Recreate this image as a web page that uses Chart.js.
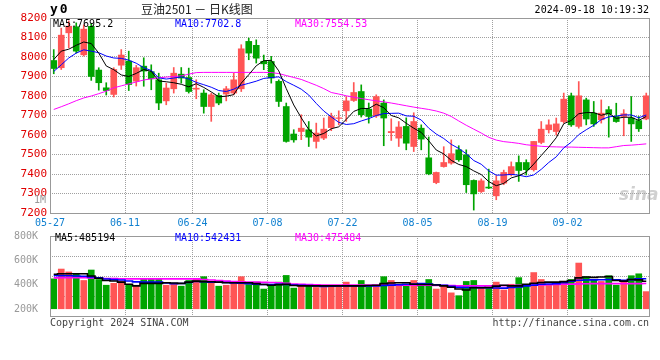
<!DOCTYPE html>
<html>
<head>
<meta charset="utf-8">
<script src="https://cdn.jsdelivr.net/npm/chart.js@4.4.1/dist/chart.umd.min.js"></script>
<style>
    body { margin: 0; background: #fff; }
    #wrap { position: relative; width: 660px; height: 360px; overflow: hidden; font-family: 'DejaVu Sans Mono', monospace; font-size: 10px; }
    #wrap canvas { position: absolute; left: 0; }
    .txt { position: absolute; white-space: nowrap; line-height: 12px; }
</style>
</head>
<body>
<div id="wrap">
    <canvas id="kChart" width="660" height="232" style="top:0"></canvas>
    <canvas id="volChart" width="660" height="100" style="top:226px"></canvas>

    <div class="txt" style="left:50px;top:3px;font-size:13px;font-weight:bold;letter-spacing:2px">y0</div>
    <div class="txt" style="left:141px;top:2px;font-family:'Noto Sans CJK SC';font-size:12px;line-height:14px;color:#222">豆油2501 － 日K线图</div>
    <div class="txt" style="right:11px;top:4px;color:#000">2024-09-18 10:19:32</div>

    <div class="txt" style="left:53px;top:18px;color:#000">MA5:7695.2</div>
    <div class="txt" style="left:175px;top:18px;color:#0000ff">MA10:7702.8</div>
    <div class="txt" style="left:295px;top:18px;color:#ff00ff">MA30:7554.53</div>

    <div class="txt" style="right:614px;top:194px;color:#999">1M</div>
    <div class="txt" style="left:619px;top:184px;font-family:'DejaVu Sans';font-size:17px;line-height:20px;font-style:italic;font-weight:bold;color:rgba(170,170,170,0.55)">sina</div>

    <div class="txt" style="left:55px;top:232px;color:#000">MA5:485194</div>
    <div class="txt" style="left:175px;top:232px;color:#0000ff">MA10:542431</div>
    <div class="txt" style="left:295px;top:232px;color:#ff00ff">MA30:475484</div>

    <div class="txt" style="left:50px;top:317px;color:#444">Copyright 2024 SINA.COM</div>
    <div class="txt" style="right:11px;top:317px;color:#444">http://finance.sina.com.cn</div>
</div>

<script>
// 豆油2501 daily candles, 2024-05-27 .. 2024-09-18 (80 trading days)

const tickDays = [0, 10, 19, 29, 39, 49, 59, 69];
const tickLabels = ['05-27', '06-11', '06-24', '07-08', '07-22', '08-05', '08-19', '09-02'];

const opens = [
    7982, 7945, 8124, 8155, 8011, 8157, 7933, 7842, 7808, 7958,
    7979, 7876, 7953, 7925, 7883, 7775, 7837, 7912, 7895, 7835,
    7815, 7746, 7803, 7810, 7815, 7837, 8080, 8060, 7978, 7977,
    7875, 7746, 7605, 7618, 7627, 7567, 7584, 7638, 7685, 7724,
    7777, 7823, 7733, 7698, 7764, 7612, 7584, 7644, 7541, 7635,
    7483, 7356, 7438, 7456, 7524, 7498, 7367, 7310, 7333, 7288,
    7353, 7396, 7459, 7459, 7422, 7562, 7627, 7618, 7669, 7801,
    7644, 7780, 7712, 7678, 7730, 7695, 7695, 7687, 7674, 7682
];
const highs = [
    8038, 8148, 8185, 8175, 8165, 8172, 7945, 7868, 7945, 8038,
    8030, 7957, 7996, 7960, 7917, 7866, 7946, 7946, 7943, 7883,
    7832, 7815, 7815, 7849, 7917, 8063, 8097, 8088, 8010, 8003,
    7883, 7764, 7627, 7704, 7669, 7661, 7687, 7712, 7724, 7797,
    7869, 7857, 7764, 7806, 7780, 7683, 7669, 7688, 7714, 7652,
    7590, 7410, 7540, 7575, 7545, 7524, 7370, 7375, 7425, 7391,
    7420, 7462, 7493, 7473, 7567, 7669, 7678, 7687, 7815, 7815,
    7874, 7789, 7772, 7780, 7746, 7763, 7730, 7797, 7695, 7815
];
const lows = [
    7914, 7936, 8047, 8020, 8005, 7880, 7830, 7805, 7795, 7936,
    7828, 7851, 7850, 7832, 7730, 7755, 7815, 7866, 7815, 7786,
    7712, 7670, 7755, 7775, 7806, 7823, 7986, 7969, 7935, 7866,
    7746, 7563, 7563, 7576, 7541, 7533, 7576, 7622, 7652, 7670,
    7772, 7692, 7661, 7690, 7545, 7572, 7541, 7524, 7515, 7524,
    7396, 7350, 7435, 7450, 7465, 7305, 7215, 7305, 7325, 7268,
    7345, 7390, 7362, 7395, 7415, 7555, 7610, 7600, 7661, 7644,
    7635, 7652, 7644, 7661, 7589, 7665, 7596, 7567, 7618, 7678
];
const closes = [
    7941, 8112, 8158, 8030, 8143, 7900, 7868, 7828, 7936, 8010,
    7859, 7945, 7928, 7888, 7764, 7841, 7917, 7892, 7823, 7840,
    7746, 7806, 7764, 7837, 7883, 8042, 8020, 7994, 7965, 7892,
    7772, 7567, 7575, 7635, 7589, 7610, 7630, 7695, 7688, 7775,
    7818, 7704, 7695, 7797, 7687, 7618, 7641, 7558, 7669, 7579,
    7401, 7408, 7459, 7504, 7473, 7345, 7298, 7365, 7328, 7365,
    7408, 7438, 7418, 7422, 7567, 7630, 7652, 7657, 7784, 7652,
    7801, 7682, 7657, 7712, 7707, 7669, 7709, 7657, 7632, 7801
];

const ma5 = [
    7987, 8030, 8040, 8060, 8077, 8069, 8020, 7954, 7935, 7908,
    7900, 7916, 7936, 7926, 7877, 7873, 7868, 7860, 7847, 7863,
    7844, 7821, 7796, 7799, 7807, 7866, 7909, 7955, 7981, 7983,
    7929, 7838, 7754, 7688, 7628, 7595, 7608, 7632, 7642, 7680,
    7721, 7736, 7736, 7758, 7740, 7700, 7688, 7660, 7635, 7613,
    7570, 7523, 7503, 7470, 7449, 7438, 7416, 7397, 7361, 7340,
    7352, 7380, 7391, 7410, 7451, 7495, 7538, 7586, 7658, 7675,
    7709, 7715, 7715, 7701, 7712, 7685, 7691, 7691, 7675, 7695.2
];
const ma10 = [
    7926, 7960, 7995, 8020, 8037, 8030, 8022, 8005, 7995, 7993,
    7984, 7968, 7945, 7931, 7893, 7887, 7892, 7898, 7887, 7870,
    7858, 7845, 7828, 7823, 7835, 7855, 7865, 7876, 7890, 7895,
    7898, 7874, 7855, 7835, 7805, 7762, 7723, 7693, 7665, 7654,
    7658, 7672, 7684, 7700, 7710, 7711, 7712, 7698, 7696, 7677,
    7635, 7605, 7582, 7552, 7531, 7504, 7469, 7450, 7416, 7394,
    7395, 7398, 7394, 7386, 7395, 7424, 7459, 7488, 7534, 7563,
    7602, 7627, 7650, 7679, 7693, 7697, 7703, 7703, 7688, 7702.8
];
const ma30 = [
    7731, 7745, 7760, 7776, 7790, 7800, 7812, 7825, 7842, 7852,
    7862, 7872, 7882, 7888, 7893, 7897, 7900, 7903, 7912, 7920,
    7921, 7921, 7921, 7921, 7921, 7921, 7921, 7921, 7921, 7920,
    7915, 7905, 7895, 7885, 7870, 7855, 7838, 7818, 7810, 7801,
    7794, 7787, 7781, 7775, 7770, 7764, 7757, 7750, 7743, 7737,
    7731, 7723, 7712, 7695, 7672, 7650, 7630, 7610, 7588, 7574,
    7566, 7562, 7557, 7550, 7546, 7542, 7540, 7539, 7538, 7538,
    7537, 7536, 7535, 7534, 7534, 7540, 7546, 7548, 7551, 7554.53
];

const volumes = [
    529000, 702000, 651000, 618000, 500000, 685000, 517000, 416000, 449000, 488000,
    416000, 416000, 529000, 529000, 529000, 416000, 449000, 399000, 500000, 529000,
    567000, 471000, 399000, 416000, 471000, 567000, 428000, 471000, 348000, 404000,
    471000, 589000, 365000, 433000, 404000, 377000, 377000, 404000, 404000, 471000,
    404000, 500000, 416000, 404000, 567000, 500000, 433000, 428000, 500000, 428000,
    517000, 348000, 416000, 281000, 231000, 483000, 500000, 377000, 377000, 471000,
    332000, 433000, 550000, 404000, 640000, 517000, 433000, 461000, 483000, 517000,
    808000, 567000, 517000, 483000, 584000, 416000, 471000, 584000, 618000, 303000
];
const volMa5 = [
    610000, 618000, 618000, 618000, 618000, 580000, 540000, 500000, 490000, 470000,
    433000, 404000, 449000, 449000, 449000, 461000, 455000, 449000, 470000, 488000,
    480000, 477000, 470000, 461000, 461000, 461000, 461000, 445000, 428000, 416000,
    425000, 433000, 410000, 404000, 404000, 404000, 404000, 404000, 404000, 404000,
    404000, 404000, 410000, 416000, 444000, 455000, 461000, 461000, 433000, 430000,
    428000, 420000, 404000, 380000, 348000, 332000, 370000, 372000, 377000, 400000,
    416000, 404000, 404000, 433000, 450000, 465000, 471000, 471000, 480000, 500000,
    545000, 560000, 555000, 560000, 570000, 500000, 488000, 517000, 510000, 485000
];
const volMa10 = [
    589000, 586000, 584000, 580000, 574000, 560000, 545000, 525000, 515000, 508000,
    490000, 475000, 471000, 471000, 471000, 455000, 445000, 447000, 465000, 483000,
    478000, 471000, 468000, 463000, 458000, 452000, 444000, 436000, 428000, 430000,
    432000, 430000, 421000, 415000, 410000, 404000, 396000, 400000, 404000, 404000,
    404000, 404000, 404000, 404000, 410000, 418000, 425000, 432000, 438000, 444000,
    435000, 425000, 416000, 398000, 380000, 377000, 377000, 373000, 370000, 367000,
    365000, 375000, 385000, 404000, 418000, 433000, 438000, 444000, 460000, 485000,
    505000, 508000, 511000, 514000, 517000, 512000, 505000, 515000, 529000, 530000
];
const volMa30 = [
    545000, 547000, 548000, 549000, 550000, 545000, 540000, 535000, 532000, 530000,
    529000, 529000, 529000, 529000, 529000, 529000, 529000, 529000, 529000, 529000,
    518000, 507000, 497000, 488000, 483000, 478000, 474000, 471000, 467000, 464000,
    461000, 450000, 436000, 432000, 428000, 425000, 421000, 421000, 421000, 421000,
    421000, 420000, 420000, 419000, 418000, 416000, 416000, 416000, 416000, 416000,
    416000, 414000, 411000, 408000, 404000, 404000, 404000, 404000, 404000, 404000,
    408000, 411000, 414000, 416000, 419000, 422000, 425000, 428000, 432000, 436000,
    440000, 443000, 444000, 444000, 444000, 444000, 444000, 444000, 444000, 446000
];

const UP = '#ff5555';
const DOWN = '#00a400';
const GRID = '#a0a0a0';
const MONO = 'DejaVu Sans Mono';

const boxBorder = {
    id: 'boxBorder',
    afterDraw(chart) {
        const {ctx, chartArea: a} = chart;
        ctx.save();
        ctx.strokeStyle = '#999';
        ctx.lineWidth = 1;
        ctx.strokeRect(a.left + 0.5, a.top + 0.5, a.right - a.left - 1, a.bottom - a.top);
        ctx.restore();
    }
};

const candleColors = opens.map((o, i) => closes[i] >= o ? UP : DOWN);

function points(values) {
    return values.map((v, i) => ({x: i, y: v}));
}

function maLine(values, color, width, stepped) {
    return {
        type: 'line',
        data: points(values),
        borderColor: color,
        borderWidth: width,
        pointRadius: 0,
        tension: 0,
        stepped: stepped,
        order: 0
    };
}

function dateAxis(showLabels) {
    return {
        type: 'linear',
        min: -0.5,
        max: 79.5,
        offset: false,
        afterBuildTicks: axis => { axis.ticks = tickDays.map(d => ({value: d - 0.5})); },
        afterFit: axis => { axis.height = showLabels ? 19 : 0; },
        grid: {color: GRID, lineWidth: 1, drawTicks: false, offset: false},
        border: {display: false, dash: [1, 1]},
        ticks: {
            display: showLabels,
            autoSkip: false,
            maxRotation: 0,
            padding: 4,
            color: '#1080d0',
            font: {family: MONO, size: 10},
            callback: (value, index) => tickLabels[index]
        }
    };
}

function renderKChart() {
    const ctx = document.getElementById('kChart');
    new Chart(ctx, {
        type: 'bar',
        data: {
            datasets: [
                maLine(ma5, '#000000', 1, false),
                maLine(ma10, '#0000ff', 1, false),
                maLine(ma30, '#ff00ff', 1, false),
                {
                    data: opens.map((o, i) => ({x: i, y: [o, closes[i]]})),
                    backgroundColor: candleColors,
                    barThickness: 6,
                    grouped: false,
                    order: 1
                },
                {
                    data: lows.map((l, i) => ({x: i, y: [l, highs[i]]})),
                    backgroundColor: candleColors,
                    barThickness: 1,
                    grouped: false,
                    order: 2
                }
            ]
        },
        options: {
            responsive: false,
            animation: false,
            devicePixelRatio: 1,
            layout: {padding: {left: 0, top: 18, right: 10, bottom: 0}},
            plugins: {legend: {display: false}, tooltip: {enabled: false}},
            scales: {
                x: dateAxis(true),
                y: {
                    type: 'linear',
                    min: 7200,
                    max: 8200,
                    afterFit: axis => { axis.width = 50; },
                    grid: {color: GRID, lineWidth: 1, drawTicks: false},
                    border: {display: false, dash: [1, 1]},
                    ticks: {
                        stepSize: 100,
                        padding: 3,
                        color: '#e00000',
                        font: {family: MONO, size: 11},
                        callback: value => String(value)
                    }
                }
            }
        },
        plugins: [boxBorder]
    });
}

function renderVolChart() {
    const ctx = document.getElementById('volChart');
    new Chart(ctx, {
        type: 'bar',
        data: {
            datasets: [
                maLine(volMa5, '#000000', 1.6, 'middle'),
                maLine(volMa10, '#0000ff', 1.6, 'middle'),
                maLine(volMa30, '#ff00ff', 1.6, 'middle'),
                {
                    data: points(volumes),
                    backgroundColor: candleColors,
                    barThickness: 6,
                    grouped: false,
                    order: 1
                }
            ]
        },
        options: {
            responsive: false,
            animation: false,
            devicePixelRatio: 1,
            layout: {padding: {left: 0, top: 8, right: 10, bottom: 8}},
            plugins: {legend: {display: false}, tooltip: {enabled: false}},
            scales: {
                x: dateAxis(false),
                y: {type: 'linear', display: false, min: -128000, max: 1286000},
                yl: {
                    type: 'linear',
                    position: 'left',
                    min: 143000,
                    max: 800000,
                    afterBuildTicks: axis => { axis.ticks = [200000, 400000, 600000, 800000].map(v => ({value: v})); },
                    afterFit: axis => { axis.width = 50; },
                    grid: {display: false},
                    border: {display: false},
                    ticks: {
                        padding: 4,
                        color: '#999',
                        font: {family: MONO, size: 10},
                        callback: value => (value / 1000) + 'K'
                    }
                },
                yg: {
                    type: 'linear',
                    position: 'left',
                    min: 0,
                    max: 4,
                    afterFit: axis => { axis.width = 0; },
                    grid: {color: GRID, lineWidth: 1, drawTicks: false},
                    border: {display: false, dash: [1, 1]},
                    ticks: {display: false, stepSize: 1}
                }
            }
        },
        plugins: [boxBorder]
    });
}

renderKChart();
renderVolChart();
</script>
</body>
</html>
